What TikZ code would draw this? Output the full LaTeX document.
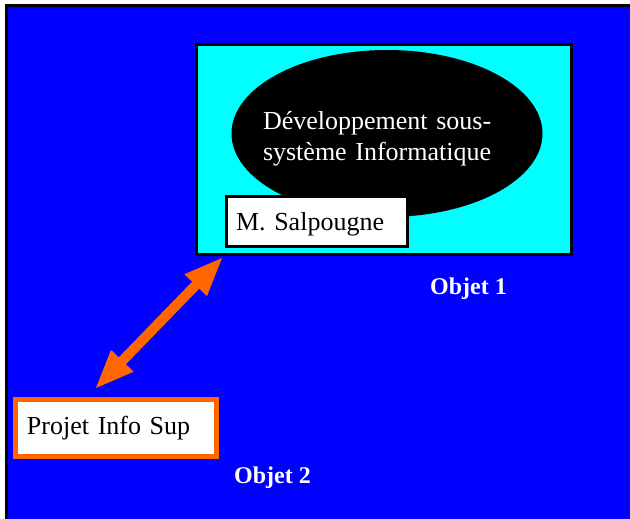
\documentclass[tikz,border=0pt]{standalone}
\usepackage{fontspec}
\setmainfont{Liberation Serif}
\usetikzlibrary{arrows.meta, positioning, shapes.geometric}
\definecolor{fondbleu}{RGB}{0,0,255}
\definecolor{cyanvif}{RGB}{0,255,255}
\definecolor{orangevif}{RGB}{255,102,0}

\begin{document}
\begin{tikzpicture}[x=1pt, y=-1pt,
    boite/.style={rectangle, fill=white, align=left, inner ysep=0pt,
                  font=\fontsize{26}{31}\selectfont},
    etiquette/.style={text=white, inner sep=0pt, anchor=base west,
                  font=\fontsize{24}{28}\selectfont\bfseries},
    liaison/.style={draw=orangevif, line width=10pt,
                  {Triangle[length=40pt,width=28pt]}-{Triangle[length=40pt,width=28pt]}}]
    \useasboundingbox (0,0) rectangle (630,519);
    \clip (0,0) rectangle (630,519);
    % fond
    \draw[fill=fondbleu, line width=3pt] (6,6) rectangle (660,550);
    % objet 1
    \draw[fill=cyanvif, line width=3pt] (196.5,45) rectangle (571.5,254.5);
    \node[ellipse, fill=black, minimum width=311pt, minimum height=167pt,
          inner sep=0pt] (bulle) at (387,133.5) {};
    \node[boite, fill=none, text=white, text width=236pt, inner sep=0pt]
      (titre) at (381,139) {Développement sous-\\système Informatique};
    \node[boite, draw=black, line width=3pt, minimum width=181pt,
          minimum height=50pt, text width=161pt, inner xsep=10pt,
          text height=23.6pt, text depth=5.6pt]
      (salp) at (316.5,221) {M. Salpougne};
    \node[etiquette] (obj1) at (430,294) {Objet 1};
    % objet 2
    \node[boite, draw=orangevif, line width=5pt, minimum width=201pt,
          minimum height=57pt, text width=178pt, inner xsep=11.5pt]
      (projet) at (116,428) {Projet Info Sup};
    \node[etiquette] (obj2) at (234,483) {Objet 2};
    % lien
    \draw[liaison] ([xshift=-1pt,yshift=-9pt]salp.south west)
      -- ([xshift=81.5pt,yshift=7.5pt]projet.north west);
\end{tikzpicture}
\end{document}
